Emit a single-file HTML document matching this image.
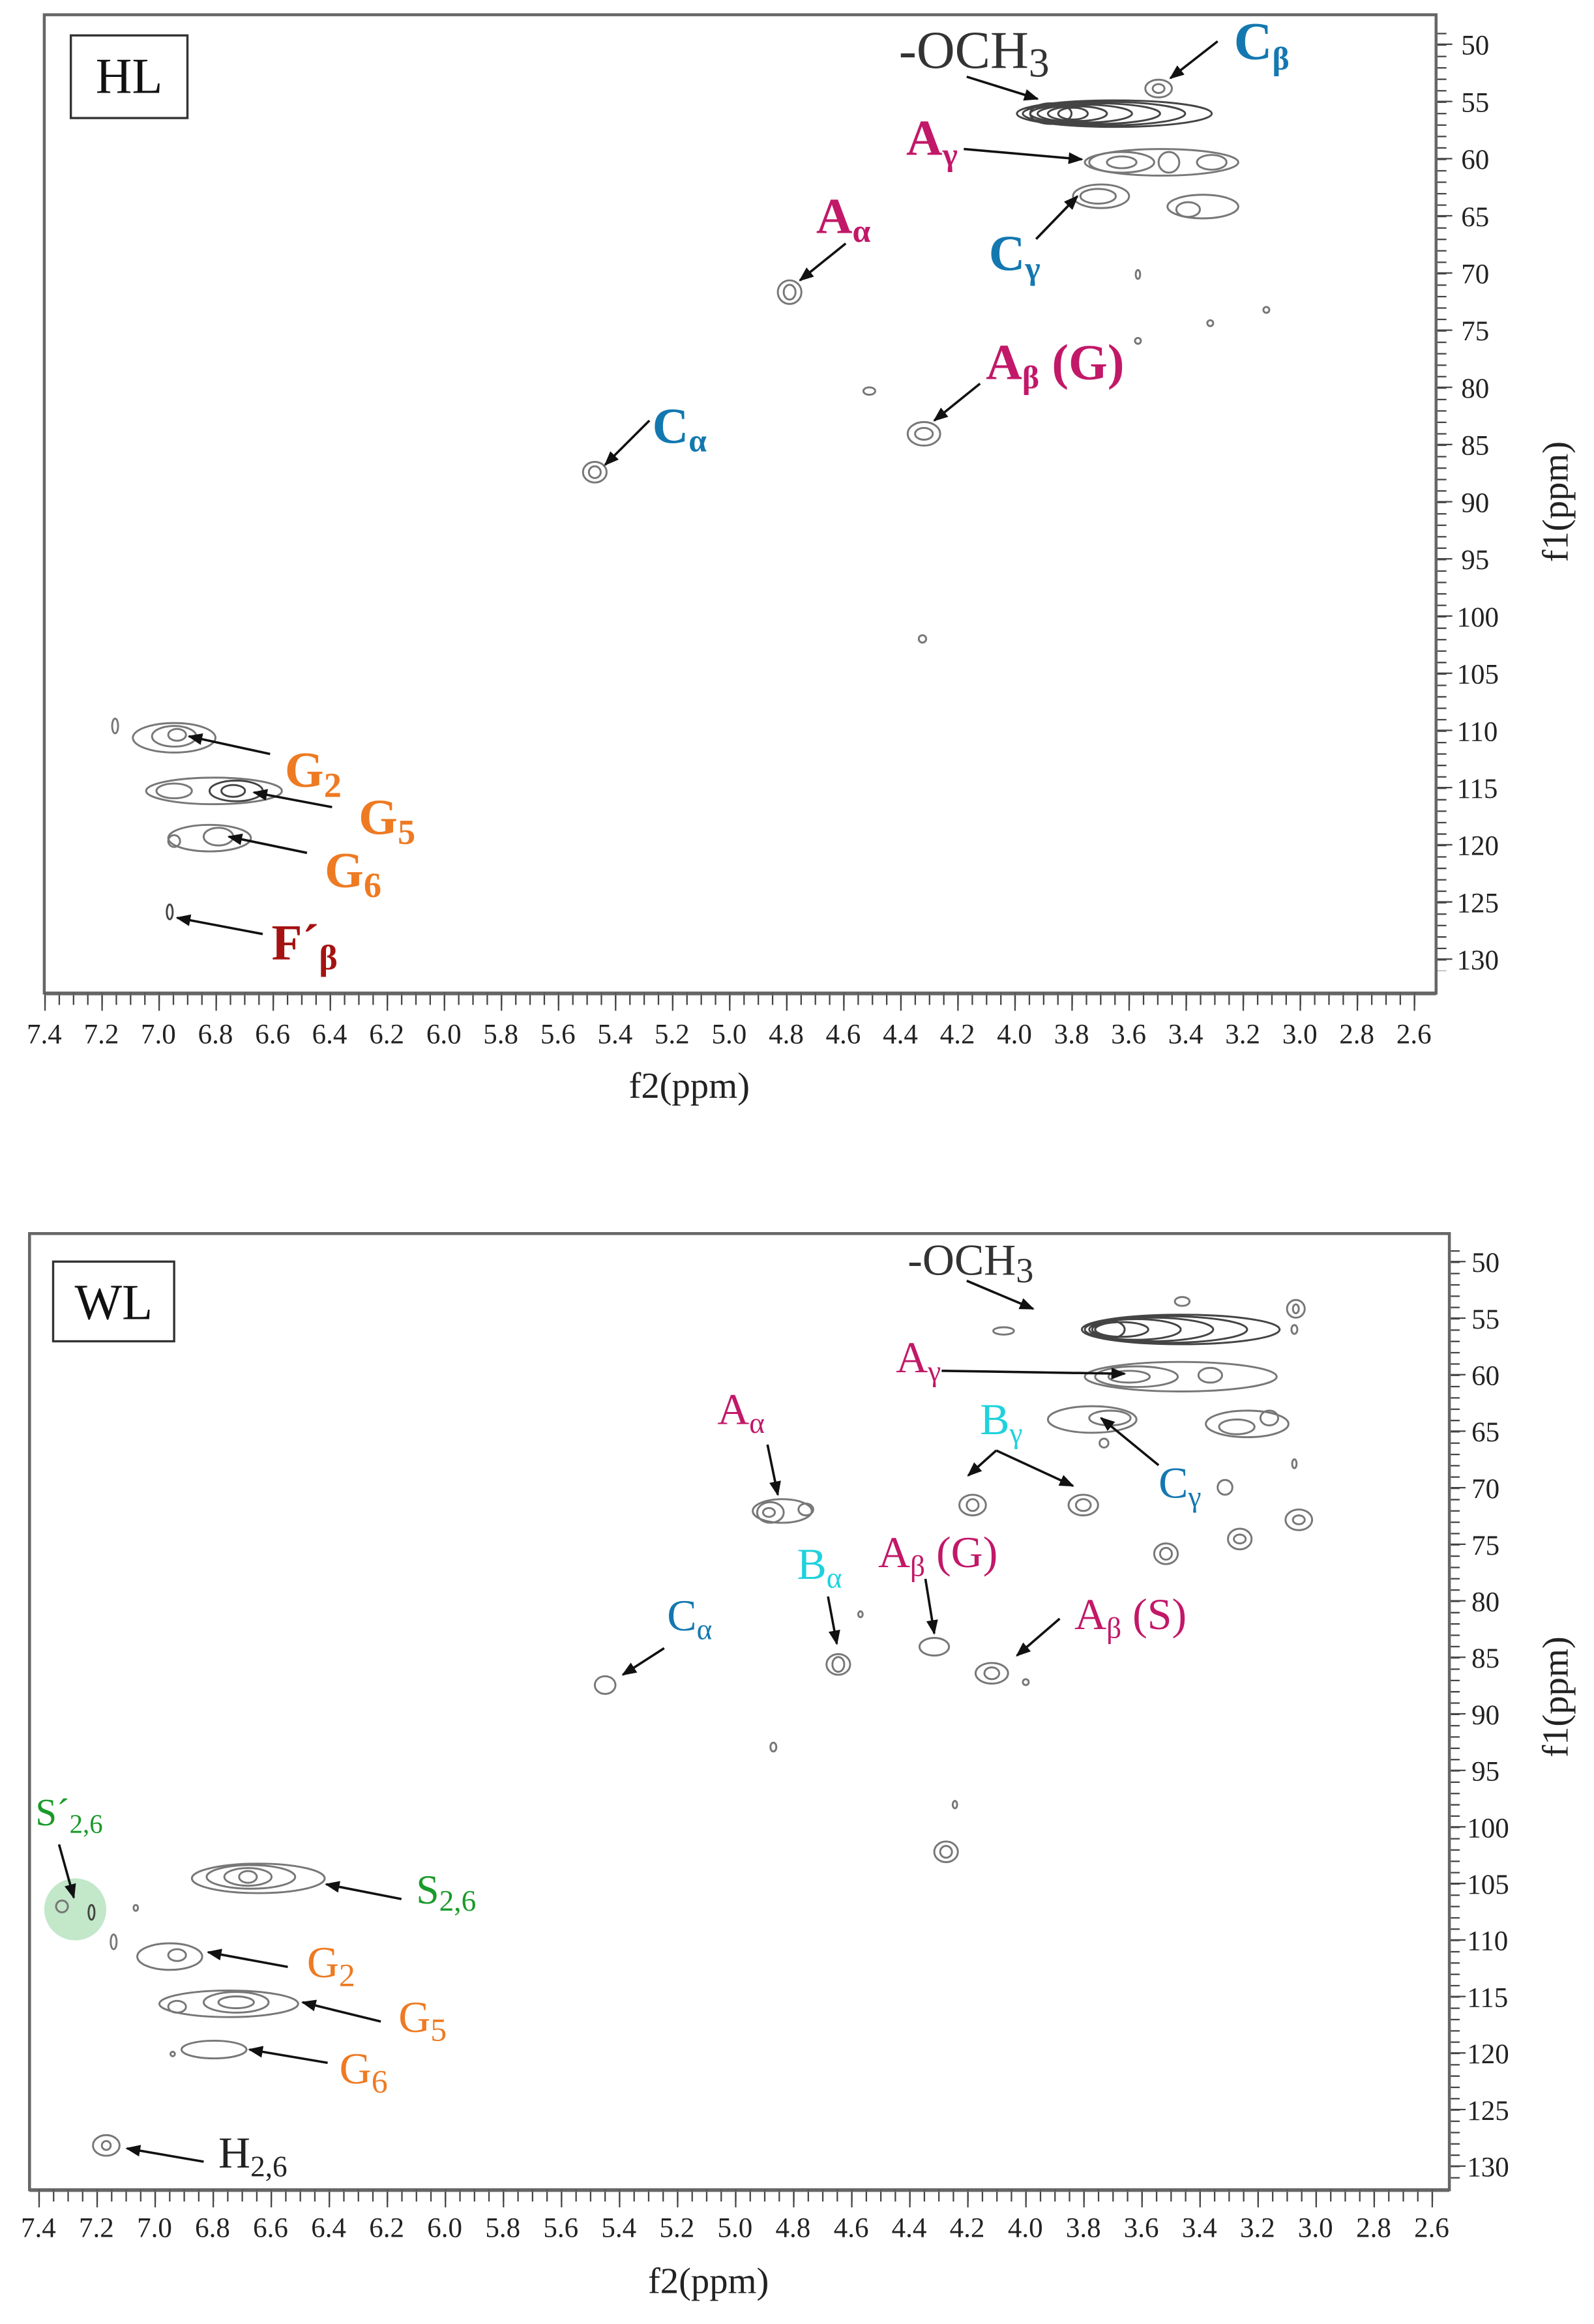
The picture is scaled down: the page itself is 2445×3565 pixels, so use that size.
<!DOCTYPE html>
<html><head><meta charset="utf-8"><style>
html,body{margin:0;padding:0;background:#fff;}
svg{display:block;}
text{font-family:"Liberation Serif",serif;}
.t{font-size:19px;fill:#222;}
.lb{font-size:32px;font-weight:bold;}
.c{fill:none;stroke:#777;stroke-width:1.3;}
.d{fill:none;stroke:#444;stroke-width:1.3;}
.a{stroke:#111;stroke-width:1.6;marker-end:url(#ah);}
</style></head><body>
<svg width="2445" height="3565" viewBox="0 0 1080 1575" preserveAspectRatio="none" xmlns="http://www.w3.org/2000/svg">
<defs><marker id="ah" markerWidth="10" markerHeight="8" refX="9" refY="4" orient="auto" markerUnits="userSpaceOnUse"><path d="M0,0 L10,4 L0,8 z" fill="#111"/></marker></defs>

<!-- ===== HL ===== -->
<rect x="30" y="10" width="943" height="663" fill="none" stroke="#666" stroke-width="2"/>
<rect x="48" y="24" width="79" height="56" fill="#fff" stroke="#333" stroke-width="1.5"/>
<text x="87.5" y="63" text-anchor="middle" style="font-size:34px" fill="#111">HL</text>
<line x1="30" y1="677" x2="959" y2="677" stroke="#444" stroke-width="8" stroke-dasharray="1 8.666"/>
<line x1="30" y1="679" x2="959" y2="679" stroke="#444" stroke-width="12" stroke-dasharray="1 37.66"/>
<line x1="30" y1="674" x2="973" y2="674" stroke="#666" stroke-width="1"/>
<g class="t" text-anchor="middle">
<text x="30" y="707">7.4</text><text x="68.7" y="707">7.2</text><text x="107.3" y="707">7.0</text><text x="146" y="707">6.8</text><text x="184.7" y="707">6.6</text><text x="223.3" y="707">6.4</text><text x="262" y="707">6.2</text><text x="300.7" y="707">6.0</text><text x="339.3" y="707">5.8</text><text x="378" y="707">5.6</text><text x="416.7" y="707">5.4</text><text x="455.3" y="707">5.2</text><text x="494" y="707">5.0</text><text x="532.7" y="707">4.8</text><text x="571.3" y="707">4.6</text><text x="610" y="707">4.4</text><text x="648.7" y="707">4.2</text><text x="687.3" y="707">4.0</text><text x="726" y="707">3.8</text><text x="764.7" y="707">3.6</text><text x="803.3" y="707">3.4</text><text x="842" y="707">3.2</text><text x="880.7" y="707">3.0</text><text x="919.3" y="707">2.8</text><text x="958" y="707">2.6</text>
</g>
<text x="467" y="744" text-anchor="middle" style="font-size:25px" fill="#222">f2(ppm)</text>
<line x1="977" y1="22" x2="977" y2="658" stroke="#444" stroke-width="6" stroke-dasharray="1 6.75" stroke-dashoffset="-0.25"/>
<line x1="979" y1="29.5" x2="979" y2="651" stroke="#444" stroke-width="10" stroke-dasharray="1 37.75"/>
<g class="t">
<text x="990" y="37">50</text><text x="990" y="75.7">55</text><text x="990" y="114.5">60</text><text x="990" y="153.2">65</text><text x="990" y="192">70</text><text x="990" y="230.7">75</text><text x="990" y="269.5">80</text><text x="990" y="308.2">85</text><text x="990" y="347">90</text><text x="990" y="385.7">95</text><text x="987" y="424.5">100</text><text x="987" y="463.2">105</text><text x="987" y="502">110</text><text x="987" y="540.7">115</text><text x="987" y="579.5">120</text><text x="987" y="618.2">125</text><text x="987" y="657">130</text>
</g>
<text transform="translate(1062,340) rotate(-90)" text-anchor="middle" style="font-size:25px" fill="#222">f1(ppm)</text>
<ellipse class="d" cx="755" cy="77" rx="66" ry="9"/><ellipse class="d" cx="748" cy="77" rx="55" ry="8"/><ellipse class="d" cx="742" cy="77" rx="44" ry="7"/><ellipse class="d" cx="735" cy="77" rx="32" ry="6"/><ellipse class="d" cx="730" cy="77" rx="20" ry="5"/><ellipse class="d" cx="727" cy="77" rx="10" ry="4"/><ellipse class="d" cx="712" cy="77" rx="14" ry="7"/>
<ellipse class="c" cx="785" cy="60" rx="9" ry="6"/><ellipse class="c" cx="785" cy="60" rx="4" ry="3"/>
<ellipse class="c" cx="787" cy="110" rx="52" ry="9"/><ellipse class="c" cx="760" cy="110" rx="22" ry="7"/><ellipse class="c" cx="760" cy="110" rx="10" ry="4"/><ellipse class="c" cx="792" cy="110" rx="7" ry="7"/><ellipse class="c" cx="821" cy="110" rx="10" ry="5"/>
<ellipse class="c" cx="746" cy="133" rx="19" ry="8"/><ellipse class="c" cx="744" cy="133" rx="12" ry="5"/>
<ellipse class="c" cx="815" cy="140" rx="24" ry="8"/><ellipse class="c" cx="805" cy="142" rx="8" ry="5"/>
<ellipse class="c" cx="535" cy="198" rx="8" ry="8"/><ellipse class="c" cx="535" cy="198" rx="4" ry="5"/>
<ellipse class="c" cx="626" cy="294" rx="11" ry="8"/><ellipse class="c" cx="626" cy="294" rx="6" ry="4"/>
<ellipse class="c" cx="589" cy="265" rx="4" ry="2.5"/>
<ellipse class="c" cx="403" cy="320" rx="8" ry="7"/><ellipse class="c" cx="403" cy="320" rx="4" ry="4"/>
<ellipse class="c" cx="625" cy="433" rx="2.5" ry="2.5"/>
<ellipse class="c" cx="771" cy="186" rx="1.5" ry="3"/><ellipse class="c" cx="820" cy="219" rx="2" ry="2"/><ellipse class="c" cx="858" cy="210" rx="2" ry="2"/><ellipse class="c" cx="771" cy="231" rx="2" ry="2"/>
<ellipse class="c" cx="118" cy="500" rx="28" ry="10"/><ellipse class="c" cx="118" cy="499" rx="15" ry="7"/><ellipse class="c" cx="120" cy="498" rx="6" ry="4"/>
<ellipse class="c" cx="78" cy="492" rx="2" ry="5"/>
<ellipse class="c" cx="145" cy="536" rx="46" ry="9"/><ellipse class="c" cx="118" cy="536" rx="12" ry="5"/><ellipse class="d" cx="160" cy="536" rx="18" ry="7"/><ellipse class="d" cx="158" cy="536" rx="8" ry="4"/>
<ellipse class="c" cx="142" cy="568" rx="28" ry="9"/><ellipse class="c" cx="148" cy="567" rx="10" ry="6"/><ellipse class="c" cx="118" cy="570" rx="4" ry="4"/>
<ellipse class="d" cx="115" cy="618" rx="2" ry="5"/>
<text x="609" y="46" class="lb" fill="#333" style="font-size:36px;font-weight:normal">-OCH<tspan dy="6" style="font-size:28px">3</tspan></text>
<text x="836" y="40" class="lb" fill="#1478b0" style="font-size:36px">C<tspan dy="7" style="font-size:22px">β</tspan></text>
<text x="614" y="105" class="lb" fill="#c21868" style="font-size:34px">A<tspan dy="7" style="font-size:22px">γ</tspan></text>
<text x="553" y="158" class="lb" fill="#c21868" style="font-size:34px">A<tspan dy="6" style="font-size:22px">α</tspan></text>
<text x="670" y="183" class="lb" fill="#1478b0" style="font-size:34px">C<tspan dy="6" style="font-size:22px">γ</tspan></text>
<text x="668" y="257" class="lb" fill="#c21868" style="font-size:34px">A<tspan dy="6" style="font-size:22px">β</tspan><tspan dy="-6"> (G)</tspan></text>
<text x="442" y="300" class="lb" fill="#1478b0" style="font-size:34px">C<tspan dy="6" style="font-size:22px">α</tspan></text>
<text x="193" y="533" class="lb" fill="#ee7a22" style="font-size:34px">G<tspan dy="7" style="font-size:24px">2</tspan></text>
<text x="243" y="565" class="lb" fill="#ee7a22" style="font-size:34px">G<tspan dy="7" style="font-size:24px">5</tspan></text>
<text x="220" y="601" class="lb" fill="#ee7a22" style="font-size:34px">G<tspan dy="7" style="font-size:24px">6</tspan></text>
<text x="184" y="650" class="lb" fill="#a51212" style="font-size:34px">F´<tspan dy="7" style="font-size:24px">β</tspan></text>
<line class="a" x1="655" y1="52" x2="703" y2="67"/>
<line class="a" x1="825" y1="28" x2="793" y2="53"/>
<line class="a" x1="653" y1="101" x2="733" y2="108"/>
<line class="a" x1="702" y1="162" x2="730" y2="133"/>
<line class="a" x1="573" y1="165" x2="542" y2="190"/>
<line class="a" x1="664" y1="260" x2="633" y2="285"/>
<line class="a" x1="440" y1="285" x2="410" y2="315"/>
<line class="a" x1="183" y1="511" x2="128" y2="499"/>
<line class="a" x1="225" y1="547" x2="172" y2="537"/>
<line class="a" x1="208" y1="578" x2="155" y2="567"/>
<line class="a" x1="178" y1="633" x2="120" y2="622"/>

<!-- ===== WL ===== -->
<rect x="20" y="836" width="962" height="648" fill="none" stroke="#666" stroke-width="2"/>
<rect x="36" y="855" width="82" height="54" fill="#fff" stroke="#333" stroke-width="1.5"/>
<text x="77" y="894" text-anchor="middle" style="font-size:34px" fill="#111">WL</text>
<line x1="26" y1="1488" x2="971" y2="1488" stroke="#444" stroke-width="8" stroke-dasharray="1 8.833"/>
<line x1="26" y1="1490" x2="971" y2="1490" stroke="#444" stroke-width="12" stroke-dasharray="1 38.33"/>
<line x1="20" y1="1485" x2="982" y2="1485" stroke="#666" stroke-width="1"/>
<g class="t" text-anchor="middle">
<text x="26" y="1516">7.4</text><text x="65.3" y="1516">7.2</text><text x="104.7" y="1516">7.0</text><text x="144" y="1516">6.8</text><text x="183.3" y="1516">6.6</text><text x="222.7" y="1516">6.4</text><text x="262" y="1516">6.2</text><text x="301.3" y="1516">6.0</text><text x="340.7" y="1516">5.8</text><text x="380" y="1516">5.6</text><text x="419.3" y="1516">5.4</text><text x="458.7" y="1516">5.2</text><text x="498" y="1516">5.0</text><text x="537.3" y="1516">4.8</text><text x="576.7" y="1516">4.6</text><text x="616" y="1516">4.4</text><text x="655.3" y="1516">4.2</text><text x="694.7" y="1516">4.0</text><text x="734" y="1516">3.8</text><text x="773.3" y="1516">3.6</text><text x="812.7" y="1516">3.4</text><text x="852" y="1516">3.2</text><text x="891.3" y="1516">3.0</text><text x="930.7" y="1516">2.8</text><text x="970" y="1516">2.6</text>
</g>
<text x="480" y="1554" text-anchor="middle" style="font-size:25px" fill="#222">f2(ppm)</text>
<line x1="986" y1="847" x2="986" y2="1477" stroke="#444" stroke-width="6" stroke-dasharray="1 6.66" stroke-dashoffset="-0.3"/>
<line x1="988" y1="854.5" x2="988" y2="1469" stroke="#444" stroke-width="10" stroke-dasharray="1 37.31"/>
<g class="t">
<text x="997" y="862">50</text><text x="997" y="900.3">55</text><text x="997" y="938.6">60</text><text x="997" y="976.9">65</text><text x="997" y="1015.2">70</text><text x="997" y="1053.6">75</text><text x="997" y="1091.9">80</text><text x="997" y="1130.2">85</text><text x="997" y="1168.5">90</text><text x="997" y="1206.8">95</text><text x="994" y="1245.1">100</text><text x="994" y="1283.4">105</text><text x="994" y="1321.7">110</text><text x="994" y="1360">115</text><text x="994" y="1398.3">120</text><text x="994" y="1436.7">125</text><text x="994" y="1475">130</text>
</g>
<text transform="translate(1062,1150) rotate(-90)" text-anchor="middle" style="font-size:25px" fill="#222">f1(ppm)</text>
<ellipse class="d" cx="800" cy="901" rx="67" ry="10"/><ellipse class="d" cx="790" cy="901" rx="55" ry="9"/><ellipse class="d" cx="780" cy="901" rx="42" ry="8"/><ellipse class="d" cx="770" cy="901" rx="30" ry="7"/><ellipse class="d" cx="760" cy="901" rx="18" ry="5"/><ellipse class="d" cx="752" cy="901" rx="10" ry="6"/>
<ellipse class="c" cx="878" cy="887" rx="6" ry="6"/><ellipse class="c" cx="878" cy="887" rx="2" ry="3"/><ellipse class="c" cx="801" cy="882" rx="5" ry="3"/><ellipse class="c" cx="680" cy="902" rx="7" ry="2.5"/><ellipse class="c" cx="877" cy="901" rx="2" ry="3"/>
<ellipse class="c" cx="800" cy="933" rx="65" ry="10"/><ellipse class="c" cx="770" cy="933" rx="28" ry="7"/><ellipse class="c" cx="765" cy="933" rx="14" ry="4"/><ellipse class="c" cx="820" cy="932" rx="8" ry="5"/>
<ellipse class="c" cx="740" cy="962" rx="30" ry="9"/><ellipse class="c" cx="752" cy="961" rx="14" ry="5"/>
<ellipse class="c" cx="845" cy="965" rx="28" ry="9"/><ellipse class="c" cx="838" cy="967" rx="12" ry="5"/><ellipse class="c" cx="860" cy="961" rx="6" ry="5"/>
<ellipse class="c" cx="748" cy="978" rx="3" ry="3"/><ellipse class="c" cx="877" cy="992" rx="1.5" ry="3"/>
<ellipse class="c" cx="530" cy="1024" rx="20" ry="8"/><ellipse class="c" cx="522" cy="1025" rx="9" ry="7"/><ellipse class="c" cx="521" cy="1025" rx="4" ry="3"/><ellipse class="c" cx="546" cy="1023" rx="5" ry="4"/>
<ellipse class="c" cx="659" cy="1020" rx="9" ry="7"/><ellipse class="c" cx="659" cy="1020" rx="4" ry="4"/><ellipse class="c" cx="734" cy="1020" rx="10" ry="7"/><ellipse class="c" cx="734" cy="1020" rx="5" ry="4"/>
<ellipse class="c" cx="830" cy="1008" rx="5" ry="5"/><ellipse class="c" cx="880" cy="1030" rx="9" ry="7"/><ellipse class="c" cx="880" cy="1030" rx="4" ry="3"/>
<ellipse class="c" cx="840" cy="1043" rx="8" ry="7"/><ellipse class="c" cx="840" cy="1043" rx="4" ry="3"/>
<ellipse class="c" cx="790" cy="1053" rx="8" ry="7"/><ellipse class="c" cx="790" cy="1053" rx="4" ry="4"/>
<ellipse class="c" cx="568" cy="1128" rx="8" ry="7"/><ellipse class="c" cx="568" cy="1128" rx="4" ry="5"/>
<ellipse class="c" cx="633" cy="1116" rx="10" ry="6"/><ellipse class="c" cx="672" cy="1134" rx="11" ry="7"/><ellipse class="c" cx="672" cy="1134" rx="5" ry="4"/><ellipse class="c" cx="695" cy="1140" rx="2" ry="2"/>
<ellipse class="c" cx="410" cy="1142" rx="7" ry="6"/><ellipse class="c" cx="583" cy="1094" rx="1.5" ry="2"/><ellipse class="c" cx="524" cy="1184" rx="2" ry="3"/><ellipse class="c" cx="647" cy="1223" rx="1.5" ry="2.5"/>
<ellipse class="c" cx="641" cy="1255" rx="8" ry="7"/><ellipse class="c" cx="641" cy="1255" rx="4" ry="4"/>
<ellipse class="c" cx="175" cy="1273" rx="45" ry="10"/><ellipse class="c" cx="170" cy="1272" rx="30" ry="8"/><ellipse class="c" cx="168" cy="1272" rx="16" ry="6"/><ellipse class="c" cx="168" cy="1272" rx="6" ry="4"/>
<circle cx="51" cy="1294" r="21" fill="#8fd39c" fill-opacity="0.55"/>
<ellipse class="c" cx="42" cy="1292" rx="4" ry="4"/><ellipse class="d" cx="62" cy="1296" rx="2" ry="5"/><ellipse class="c" cx="92" cy="1293" rx="1.5" ry="2"/><ellipse class="c" cx="77" cy="1316" rx="2" ry="5"/>
<ellipse class="c" cx="115" cy="1326" rx="22" ry="9"/><ellipse class="c" cx="120" cy="1325" rx="6" ry="4"/>
<ellipse class="c" cx="155" cy="1358" rx="47" ry="9"/><ellipse class="c" cx="160" cy="1357" rx="22" ry="7"/><ellipse class="c" cx="160" cy="1357" rx="12" ry="4"/><ellipse class="c" cx="120" cy="1360" rx="6" ry="4"/>
<ellipse class="c" cx="145" cy="1389" rx="22" ry="6"/><ellipse class="c" cx="117" cy="1392" rx="1.5" ry="1.5"/>
<ellipse class="c" cx="72" cy="1454" rx="9" ry="7"/><ellipse class="c" cx="72" cy="1454" rx="3" ry="3"/>
<text x="615" y="864" fill="#333" style="font-size:30px">-OCH<tspan dy="5" style="font-size:24px">3</tspan></text>
<text x="607" y="930" fill="#c21868" style="font-size:30px">A<tspan dy="6" style="font-size:20px">γ</tspan></text>
<text x="486" y="965" fill="#c21868" style="font-size:30px">A<tspan dy="6" style="font-size:20px">α</tspan></text>
<text x="664" y="972" fill="#1ed2dc" style="font-size:30px">B<tspan dy="6" style="font-size:20px">γ</tspan></text>
<text x="785" y="1015" fill="#1478b0" style="font-size:30px">C<tspan dy="6" style="font-size:20px">γ</tspan></text>
<text x="595" y="1062" fill="#c21868" style="font-size:30px">A<tspan dy="6" style="font-size:20px">β</tspan><tspan dy="-6"> (G)</tspan></text>
<text x="540" y="1070" fill="#1ed2dc" style="font-size:30px">B<tspan dy="6" style="font-size:20px">α</tspan></text>
<text x="452" y="1105" fill="#1478b0" style="font-size:30px">C<tspan dy="6" style="font-size:20px">α</tspan></text>
<text x="728" y="1104" fill="#c21868" style="font-size:30px">A<tspan dy="6" style="font-size:20px">β</tspan><tspan dy="-6"> (S)</tspan></text>
<text x="24" y="1237" fill="#1a9a2a" style="font-size:26px">S´<tspan dy="5" style="font-size:18px">2,6</tspan></text>
<text x="282" y="1290" fill="#1a9a2a" style="font-size:28px">S<tspan dy="5" style="font-size:20px">2,6</tspan></text>
<text x="208" y="1340" fill="#ee7a22" style="font-size:30px">G<tspan dy="6" style="font-size:22px">2</tspan></text>
<text x="270" y="1377" fill="#ee7a22" style="font-size:30px">G<tspan dy="6" style="font-size:22px">5</tspan></text>
<text x="230" y="1412" fill="#ee7a22" style="font-size:30px">G<tspan dy="6" style="font-size:22px">6</tspan></text>
<text x="148" y="1469" fill="#222" style="font-size:30px">H<tspan dy="6" style="font-size:20px">2,6</tspan></text>
<line class="a" x1="655" y1="868" x2="700" y2="887"/>
<line class="a" x1="638" y1="929" x2="762" y2="931"/>
<line class="a" x1="520" y1="979" x2="527" y2="1013"/>
<line class="a" x1="675" y1="983" x2="656" y2="1000"/>
<line class="a" x1="675" y1="983" x2="727" y2="1007"/>
<line class="a" x1="785" y1="993" x2="746" y2="961"/>
<line class="a" x1="627" y1="1070" x2="633" y2="1107"/>
<line class="a" x1="561" y1="1082" x2="567" y2="1114"/>
<line class="a" x1="450" y1="1117" x2="422" y2="1135"/>
<line class="a" x1="718" y1="1097" x2="689" y2="1122"/>
<line class="a" x1="40" y1="1250" x2="50" y2="1286"/>
<line class="a" x1="272" y1="1287" x2="221" y2="1277"/>
<line class="a" x1="195" y1="1333" x2="141" y2="1323"/>
<line class="a" x1="258" y1="1370" x2="205" y2="1357"/>
<line class="a" x1="222" y1="1398" x2="169" y2="1389"/>
<line class="a" x1="138" y1="1465" x2="86" y2="1456"/>
</svg>
</body></html>
